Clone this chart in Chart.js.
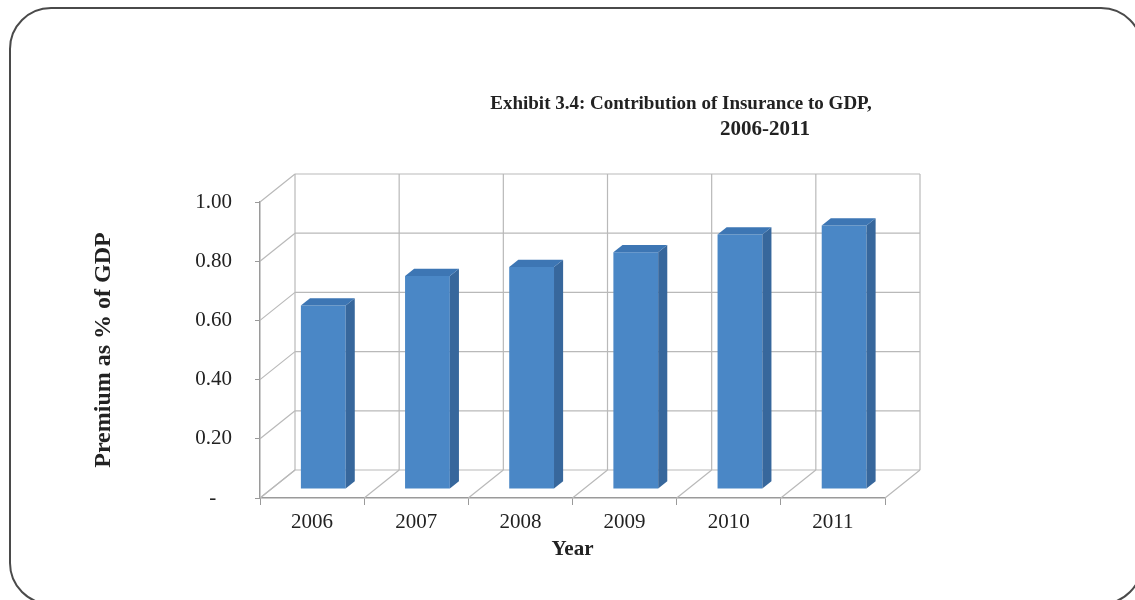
<!DOCTYPE html>
<html>
<head>
<meta charset="utf-8">
<title>Exhibit 3.4</title>
<script src="https://cdn.jsdelivr.net/npm/chart.js@4.4.1/dist/chart.umd.min.js"></script>
<style>
  html, body { margin: 0; padding: 0; background: #fff; overflow: hidden; }
  #wrap { position: relative; width: 1135px; height: 600px; }
  #frame {
    position: absolute; left: 9px; top: 7px; width: 1134px; height: 598px;
    border: 2px solid #4a4a4a; border-radius: 42px; box-sizing: border-box;
  }
  #chart { position: absolute; left: 0; top: 0; }
</style>
</head>
<body>
<div id="wrap">
  <div id="frame"></div>
  <canvas id="chart" width="1135" height="600"></canvas>
</div>
<script>
// data
const YEARS = ["2006", "2007", "2008", "2009", "2010", "2011"];
const PREMIUM_PCT_GDP = [0.62, 0.72, 0.75, 0.80, 0.86, 0.89];
const Y_MAX = 1.0;
const Y_STEP = 0.2;
const TITLE_LINES = ["Exhibit 3.4: Contribution of Insurance to GDP,", "2006-2011"];
const X_TITLE = "Year";
const Y_TITLE = "Premium as % of GDP";

const SERIF = '"Liberation Serif", "Times New Roman", serif';
const GRID = "#b9b9b9";
const AXIS = "#9a9a9a";
const TEXT = "#222";
const FRONT = "#4a87c6";
const SIDE = "#37679c";
const TOP = "#3d76b4";

// 3d look: back wall offset and where the bars sit in depth
const DEPTH = { x: 35, y: -28 };
const BAR_DEPTH = [0.32, 0.58];

function seg(ctx, x1, y1, x2, y2) {
  ctx.beginPath();
  ctx.moveTo(x1, y1);
  ctx.lineTo(x2, y2);
  ctx.stroke();
}

const box3d = {
  id: "box3d",
  beforeDatasetsDraw(chart) {
    const { ctx, chartArea: a, scales: { x, y } } = chart;
    const dx = DEPTH.x, dy = DEPTH.y;
    const y0 = y.getPixelForValue(0), y1 = y.getPixelForValue(Y_MAX);
    ctx.save();
    ctx.strokeStyle = GRID;
    ctx.lineWidth = 1.2;
    // back wall rows + left wall slants
    y.ticks.forEach(t => {
      const py = y.getPixelForValue(t.value);
      seg(ctx, a.left, py, a.left + dx, py + dy);
      seg(ctx, a.left + dx, py + dy, a.right + dx, py + dy);
    });
    // back wall columns + floor slants
    for (let i = 0; i <= YEARS.length; i++) {
      const bx = x.getPixelForValue(i - 0.5);
      seg(ctx, bx + dx, y1 + dy, bx + dx, y0 + dy);
      seg(ctx, bx, y0, bx + dx, y0 + dy);
    }
    ctx.restore();
    // bars sit part way into the box
    ctx.save();
    ctx.translate(BAR_DEPTH[0] * dx, BAR_DEPTH[0] * dy);
  },
  afterDatasetsDraw(chart) {
    const { ctx } = chart;
    const k = BAR_DEPTH[1] - BAR_DEPTH[0];
    const sx = k * DEPTH.x, sy = k * DEPTH.y;
    chart.getDatasetMeta(0).data.forEach(bar => {
      const { x, y, base, width } = bar.getProps(["x", "y", "base", "width"], true);
      const l = x - width / 2, r = x + width / 2;
      ctx.fillStyle = SIDE;
      ctx.beginPath();
      ctx.moveTo(r, y); ctx.lineTo(r + sx, y + sy); ctx.lineTo(r + sx, base + sy); ctx.lineTo(r, base);
      ctx.closePath(); ctx.fill();
      ctx.fillStyle = TOP;
      ctx.beginPath();
      ctx.moveTo(l, y); ctx.lineTo(l + sx, y + sy); ctx.lineTo(r + sx, y + sy); ctx.lineTo(r, y);
      ctx.closePath(); ctx.fill();
    });
    ctx.restore();
  },
  afterDraw(chart) {
    const { ctx } = chart;
    ctx.save();
    ctx.fillStyle = TEXT;
    ctx.font = "bold 19px " + SERIF;
    ctx.textAlign = "center";
    ctx.textBaseline = "alphabetic";
    ctx.fillText(TITLE_LINES[0], 681, 109);
    ctx.font = "bold 21px " + SERIF;
    ctx.fillText(TITLE_LINES[1], 765, 135);
    ctx.restore();
  }
};

new Chart(document.getElementById("chart"), {
  type: "bar",
  data: {
    labels: YEARS,
    datasets: [{
      data: PREMIUM_PCT_GDP,
      backgroundColor: FRONT,
      borderWidth: 0,
      categoryPercentage: 1,
      barPercentage: 0.43,
      clip: false
    }]
  },
  options: {
    responsive: false,
    animation: false,
    layout: { padding: { top: 202, right: 250, bottom: 38, left: 89 } },
    plugins: { legend: { display: false }, tooltip: { enabled: false }, title: { display: false } },
    scales: {
      x: {
        afterFit(s) { s.height = 64; },
        grid: { drawOnChartArea: false, drawTicks: true, tickLength: 7, color: AXIS, offset: true },
        border: { color: AXIS, width: 1.5 },
        ticks: { color: TEXT, font: { family: SERIF, size: 21 }, padding: 5, maxRotation: 0 },
        title: { display: true, text: X_TITLE, color: TEXT, font: { family: SERIF, size: 21, weight: "bold" }, padding: 0 }
      },
      y: {
        min: 0,
        max: Y_MAX,
        afterFit(s) { s.width = 171; },
        grid: { drawOnChartArea: false, drawTicks: true, tickLength: 5, color: AXIS },
        border: { color: AXIS, width: 1.5 },
        ticks: {
          stepSize: Y_STEP,
          color: TEXT,
          font: { family: SERIF, size: 21 },
          padding: 23,
          callback: v => (v === 0 ? "-   " : v.toFixed(2))
        },
        title: { display: true, text: Y_TITLE, color: TEXT, font: { family: SERIF, size: 24, weight: "bold" }, padding: 0 }
      }
    }
  },
  plugins: [box3d]
});
</script>
</body>
</html>
